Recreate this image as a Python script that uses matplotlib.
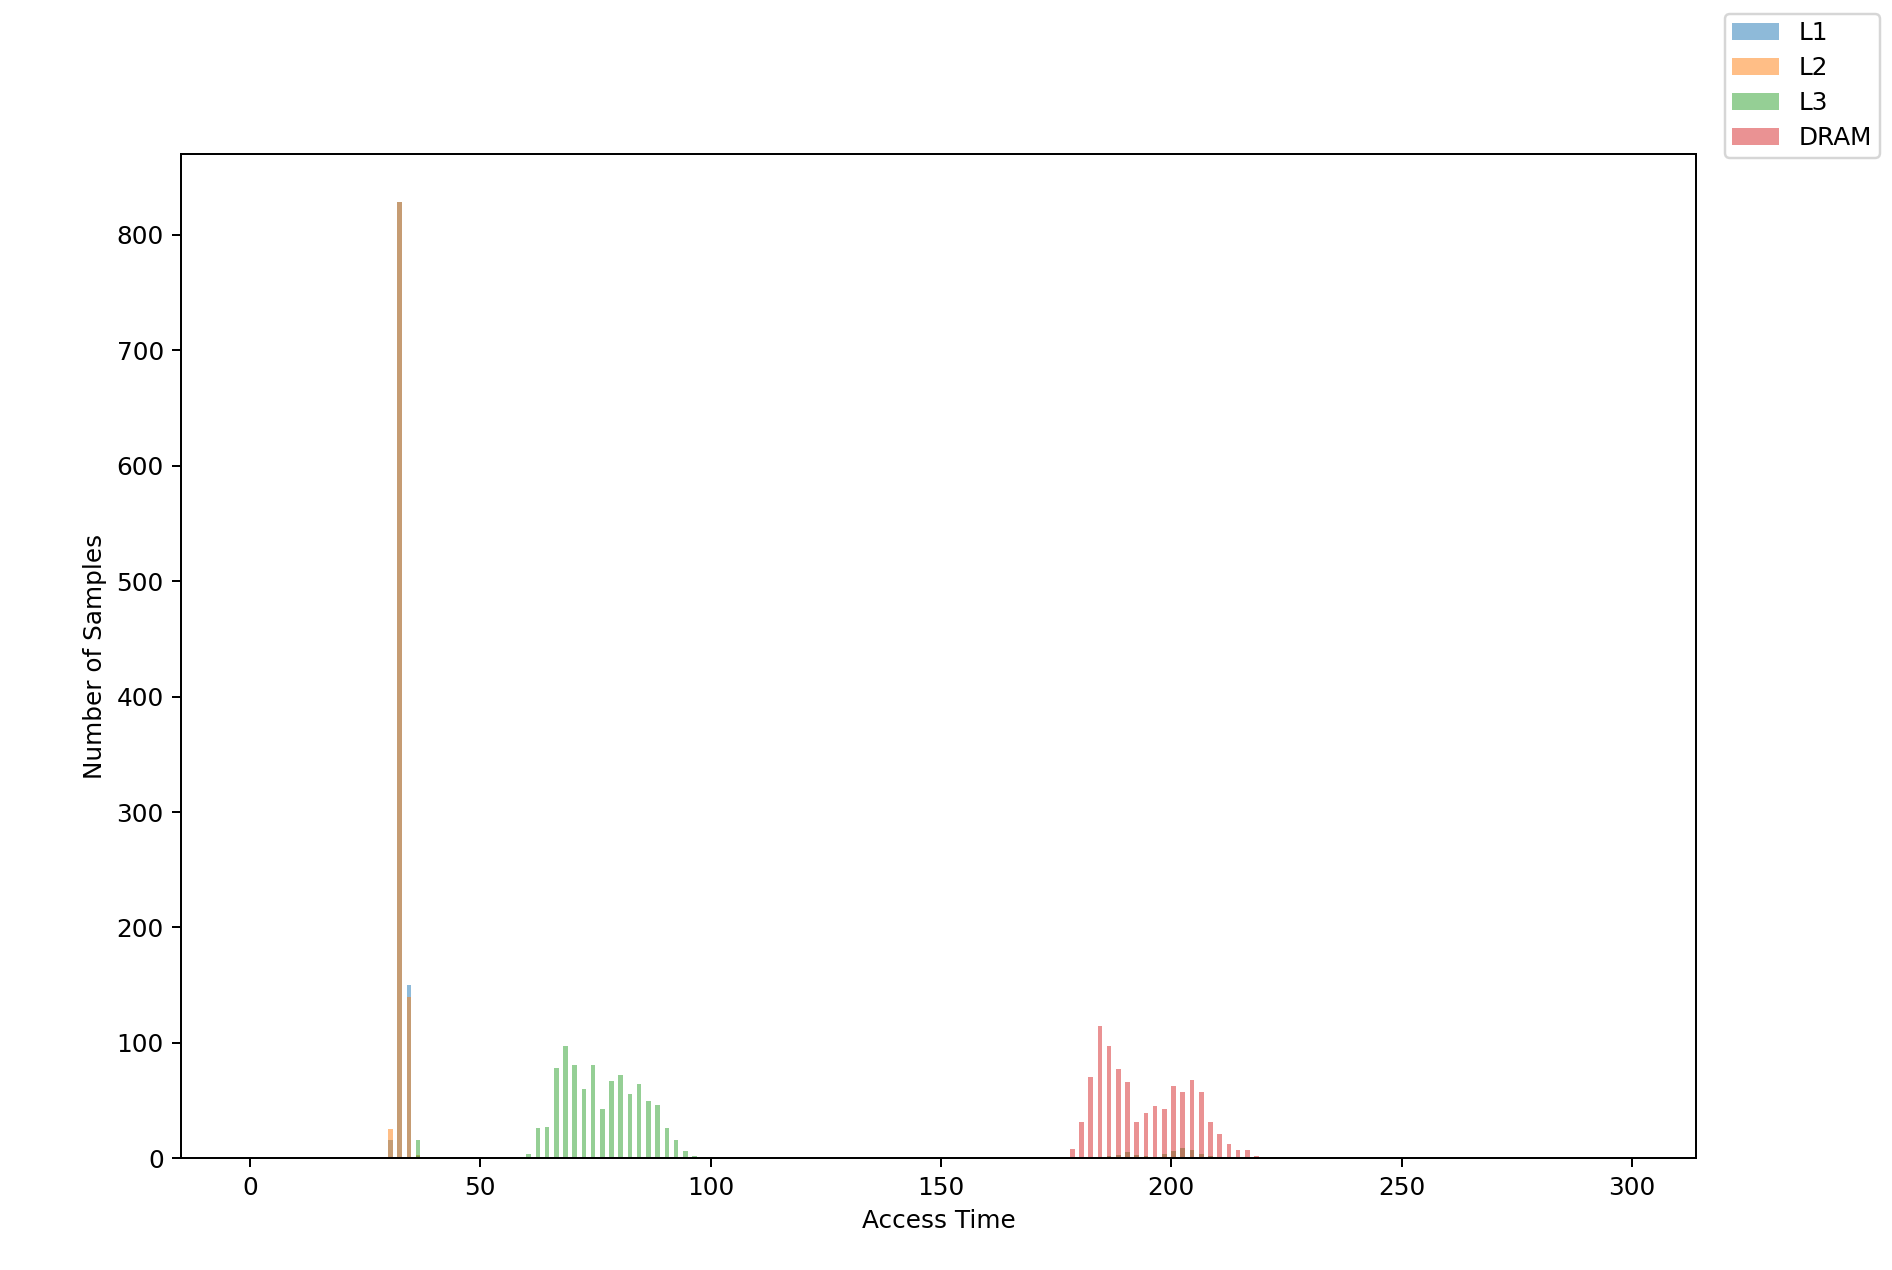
import numpy as np
import matplotlib
matplotlib.use('Agg')
import matplotlib.pyplot as plt

# access time (cycles) -> number of samples
l1_times = [30, 32, 34, 36]
l1_counts = [16, 829, 150, 2]

l2_times = [30, 32, 34, 36]
l2_counts = [25, 829, 140, 3]

l3_times = [36, 38, 44, 50, 60, 62, 64, 66, 68, 70, 72, 74, 76, 78, 80, 82, 84, 86, 88, 90, 92, 94, 96, 98, 100, 106,
            186, 188, 190, 192, 194, 196, 198, 200, 202, 204, 206, 208, 210]
l3_counts = [16, 1, 1, 1, 4, 26, 27, 78, 97, 81, 60, 81, 43, 67, 72, 56, 64, 50, 46, 26, 16, 6, 2, 1, 1, 1,
             2, 3, 5, 3, 2, 1, 4, 6, 9, 7, 4, 2, 1]

dram_times = [178, 180, 182, 184, 186, 188, 190, 192, 194, 196, 198, 200, 202, 204, 206, 208, 210, 212, 214, 216,
              218, 222, 224, 288]
dram_counts = [8, 31, 70, 115, 97, 77, 66, 31, 39, 45, 43, 63, 57, 68, 57, 31, 21, 12, 7, 7,
               2, 1, 1, 1]

labels = ['L1', 'L2', 'L3', 'DRAM']

def samples(times, counts):
    return np.repeat(np.array(times), np.array(counts))

data = [samples(l1_times, l1_counts), samples(l2_times, l2_counts),
        samples(l3_times, l3_counts), samples(dram_times, dram_counts)]

fig = plt.figure(figsize=(1892 / 178, 1270 / 178), dpi=178)
ax = fig.add_subplot(111)
fig.subplots_adjust(left=0.0957, right=0.8965, top=0.879, bottom=0.088)

bins = np.arange(0, 300)
for d, lab in zip(data, labels):
    ax.hist(d, bins=bins, alpha=0.5, label=lab)

ax.set_xlabel('Access Time')
ax.set_ylabel('Number of Samples')
fig.legend(loc='upper right', labelspacing=0.45, borderpad=0.3, handlelength=1.9,
           bbox_to_anchor=(1.0, 0.999))

fig.savefig('out.png', dpi=178)
